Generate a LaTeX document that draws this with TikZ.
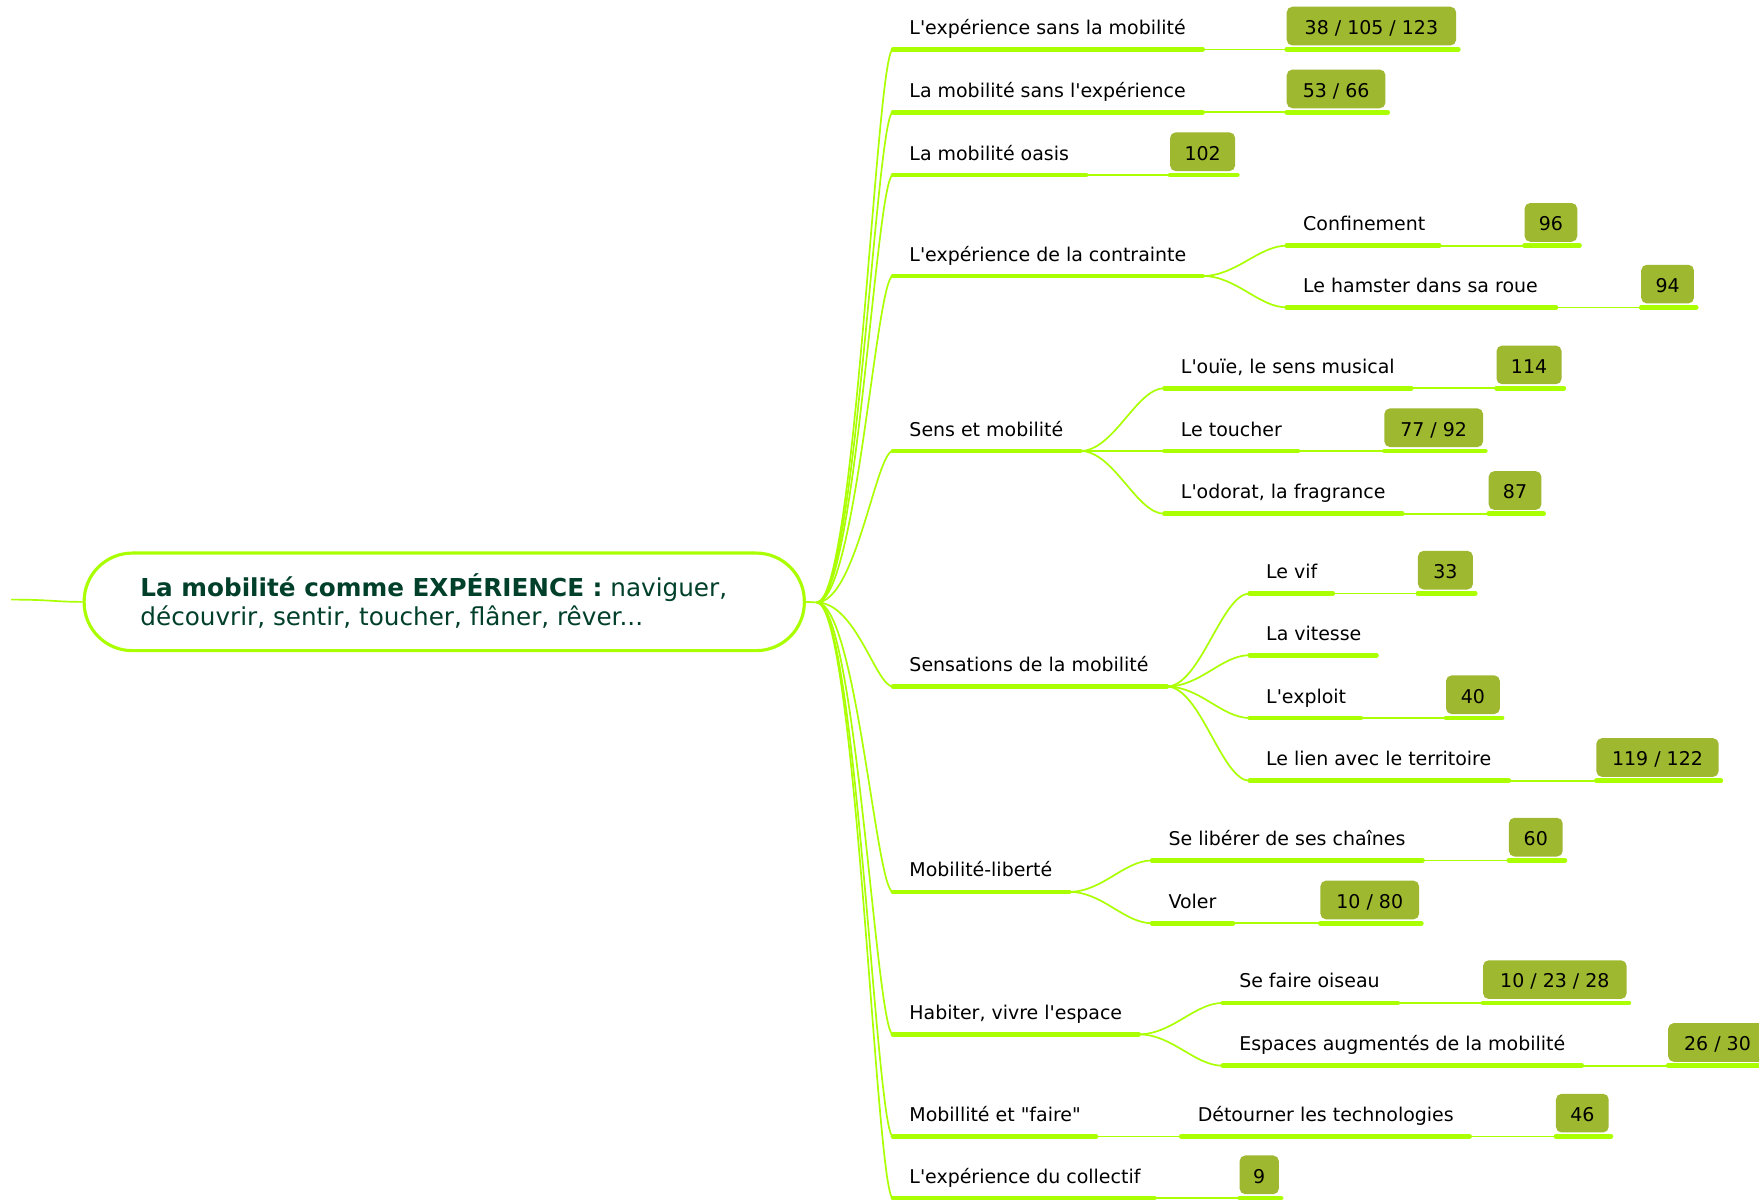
\documentclass[tikz,border=0pt]{standalone}
\usepackage{fontspec}
\newfontfamily\mmfont{DejaVu Sans}
\usetikzlibrary{calc}
\definecolor{lime}{RGB}{170,255,0}
\definecolor{olivebadge}{RGB}{158,184,48}
\definecolor{dgreen}{RGB}{0,64,42}
\newcommand\mmTopic[5]{% name, x0, x1, y, text
  \coordinate (#1-a) at (#2,#4);
  \coordinate (#1-b) at (#3,#4);
  \node[topictext] (#1) at ({#2+14.5},{#4-13.3}) {#5};
  \draw[uline] (#1-a) -- (#1-b);
}
\newcommand\mmBadge[6]{% name, parent, x0, x1, y, text
  \coordinate (#1-a) at (#3,#5);
  \coordinate (#1-b) at ({#4+2},#5);
  \draw[thinline] (#2-b) -- (#1-a);
  \node[badge, minimum width={#4-#3}] (#1) at ({(#3+#4)/2},{#5-20.75}) {#6};
  \draw[uline] (#1-a) -- (#1-b);
}
\newcommand\mmRoot[1]{\draw[curve] (rt) .. controls +(35,0) and +(-15,0) .. (#1-a);}
\newcommand\mmSub[2]{\draw[curve] (#1-b) .. controls +(30,0) and +(-25,0) .. (#2-a);}
\begin{document}
\begin{tikzpicture}[x=1pt,y=-1pt,
  uline/.style={draw=lime, line width=4.2pt, line cap=round},
  thinline/.style={draw=lime, line width=1.5pt},
  curve/.style={draw=lime, line width=1.5pt},
  topictext/.style={anchor=base west, inner sep=0pt, font=\mmfont\fontsize{16.9}{20}\selectfont, text=black},
  badge/.style={fill=olivebadge, rounded corners=5pt, inner sep=0pt, minimum height=34.5pt, text height=14.9pt, text depth=0pt, font=\mmfont\fontsize{16.9}{20}\selectfont, text=black},
  maintext/.style={anchor=base west, inner sep=0pt, font=\mmfont\fontsize{22}{26}\selectfont, text=dgreen},
]
\clip (0,0) rectangle (1568,1069);
\fill[white] (0,0) rectangle (1568,1069);

% central topic
\node[draw=lime, line width=2.8pt, rounded corners=43pt, minimum width=642pt, minimum height=87pt, inner sep=0pt] (main) at (396,536.5) {};
\node[maintext] (mt1) at (125,532) {\textbf{La mobilité comme EXPÉRIENCE :} naviguer,};
\node[maintext] (mt2) at (125,558) {découvrir, sentir, toucher, flâner, rêver...};
\coordinate (lft) at (10,534.5);
\draw[curve] (lft) .. controls +(35,0) and +(-25,0) .. (main.west);
\coordinate (rt) at (728,537);
\draw[curve] (main.east) -- (rt);

% level 1
\mmTopic{t1}{796}{1072}{44}{L'expérience sans la mobilité}
\mmTopic{t2}{796}{1072}{100}{La mobilité sans l'expérience}
\mmTopic{t3}{796}{968}{156}{La mobilité oasis}
\mmTopic{t4}{796}{1072}{246}{L'expérience de la contrainte}
\mmTopic{t5}{796}{963}{402}{Sens et mobilité}
\mmTopic{t6}{796}{1040}{612}{Sensations de la mobilité}
\mmTopic{t7}{796}{953}{795}{Mobilité-liberté}
\mmTopic{t8}{796}{1015}{922}{Habiter, vivre l'espace}
\mmTopic{t9}{796}{977}{1013}{Mobillité et "faire"}
\mmTopic{t10}{796}{1029}{1068}{L'expérience du collectif}
\mmRoot{t1}\mmRoot{t2}\mmRoot{t3}\mmRoot{t4}\mmRoot{t5}
\mmRoot{t6}\mmRoot{t7}\mmRoot{t8}\mmRoot{t9}\mmRoot{t10}

% level 2
\mmTopic{t4a}{1147}{1283}{219}{Confinement}
\mmTopic{t4b}{1147}{1387}{274}{Le hamster dans sa roue}
\mmTopic{t5a}{1038}{1258}{346}{L'ouïe, le sens musical}
\mmTopic{t5b}{1038}{1157}{402}{Le toucher}
\mmTopic{t5c}{1038}{1250}{458}{L'odorat, la fragrance}
\mmTopic{t6a}{1114}{1188}{529}{Le vif}
\mmTopic{t6b}{1114}{1227}{584}{La vitesse}
\mmTopic{t6c}{1114}{1213}{640}{L'exploit}
\mmTopic{t6d}{1114}{1345}{696}{Le lien avec le territoire}
\mmTopic{t7a}{1027}{1268}{767}{Se libérer de ses chaînes}
\mmTopic{t7b}{1027}{1099}{823}{Voler}
\mmTopic{t8a}{1090}{1246}{894}{Se faire oiseau}
\mmTopic{t8b}{1090}{1410}{950}{Espaces augmentés de la mobilité}
\mmTopic{t9a}{1053}{1310}{1013}{Détourner les technologies}
\mmSub{t4}{t4a}\mmSub{t4}{t4b}
\mmSub{t5}{t5a}\mmSub{t5}{t5b}\mmSub{t5}{t5c}
\mmSub{t6}{t6a}\mmSub{t6}{t6b}\mmSub{t6}{t6c}\mmSub{t6}{t6d}
\mmSub{t7}{t7a}\mmSub{t7}{t7b}
\mmSub{t8}{t8a}\mmSub{t8}{t8b}
\mmSub{t9}{t9a}

% badges
\mmBadge{b1}{t1}{1147}{1298}{44}{38 / 105 / 123}
\mmBadge{b2}{t2}{1147}{1235}{100}{53 / 66}
\mmBadge{b3}{t3}{1043}{1101}{156}{102}
\mmBadge{b4a}{t4a}{1359}{1406}{219}{96}
\mmBadge{b4b}{t4b}{1463}{1510}{274}{94}
\mmBadge{b5a}{t5a}{1334}{1392}{346}{114}
\mmBadge{b5b}{t5b}{1234}{1322}{402}{77 / 92}
\mmBadge{b5c}{t5c}{1327}{1374}{458}{87}
\mmBadge{b6a}{t6a}{1264}{1313}{529}{33}
\mmBadge{b6c}{t6c}{1289}{1337}{640}{40}
\mmBadge{b6d}{t6d}{1423}{1532}{696}{119 / 122}
\mmBadge{b7a}{t7a}{1345}{1393}{767}{60}
\mmBadge{b7b}{t7b}{1177}{1265}{823}{10 / 80}
\mmBadge{b8a}{t8a}{1322}{1450}{894}{10 / 23 / 28}
\mmBadge{b8b}{t8b}{1487}{1575}{950}{26 / 30}
\mmBadge{b9a}{t9a}{1387}{1434}{1013}{46}
\mmBadge{b10}{t10}{1105}{1140}{1068}{9}
\end{tikzpicture}
\end{document}
